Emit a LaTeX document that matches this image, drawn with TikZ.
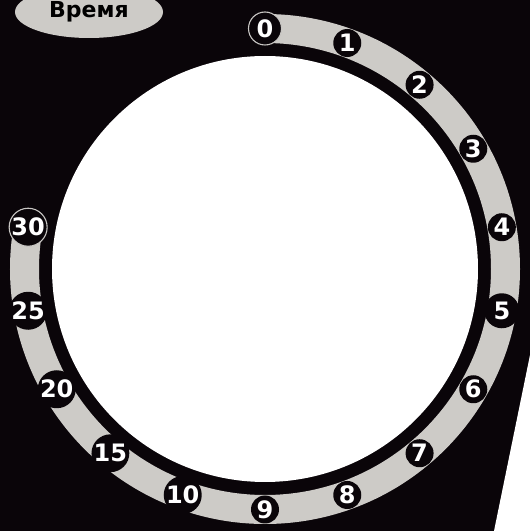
\documentclass[tikz,border=0pt]{standalone}
\usepackage{fontspec}
\newfontfamily\numfont{DejaVu Sans}
\usetikzlibrary{calc,shapes.geometric}
\definecolor{bgblack}{RGB}{10,5,9}
\definecolor{bandgray}{RGB}{205,203,199}
\definecolor{rimgray}{RGB}{200,198,195}
\tikzset{
  minor/.style={circle, fill=bgblack, text=white, inner sep=0pt, minimum size=28pt,
    font=\numfont\bfseries\fontsize{24}{24}\selectfont},
  major/.style={minor, minimum size=35pt},
  endmark/.style={major, minimum size=33pt, draw=rimgray, line width=1.1pt},
  title/.style={ellipse, fill=bandgray, minimum width=148pt, minimum height=52pt, inner sep=0pt}
}
\begin{document}
\begin{tikzpicture}[x=1pt,y=1pt]
\useasboundingbox (0,0) rectangle (530,531);
\fill[bgblack] (0,0) rectangle (530,531);
\fill[white] (530,176) -- (530,0) -- (494,0) -- cycle;
\coordinate (c) at (265,262);
% grey band
\draw[bandgray, line width=29pt] ($(c)+(90:240.5pt)$) arc[start angle=90, end angle=-190, radius=240.5pt];
% white disc
\fill[white] (c) circle[radius=213pt];
% title
\node[title] (t) at (89,519) {};
\node[font=\numfont\bfseries\fontsize{22}{22}\selectfont, text=black, anchor=base, inner sep=0pt] (tt) at (89,513.3) {Время};
% labels
\foreach \t/\st [count=\i from 0] in {0/endmark,1/minor,2/minor,3/minor,4/minor,5/major,6/minor,7/minor,8/minor,9/minor,10/major,15/major,20/major,25/major,30/endmark}{
  \pgfmathsetmacro\ang{90-20*\i}
  \node[\st] (n\t) at ($(c)+(\ang:240.5pt)$) {\t};
}
\end{tikzpicture}
\end{document}
